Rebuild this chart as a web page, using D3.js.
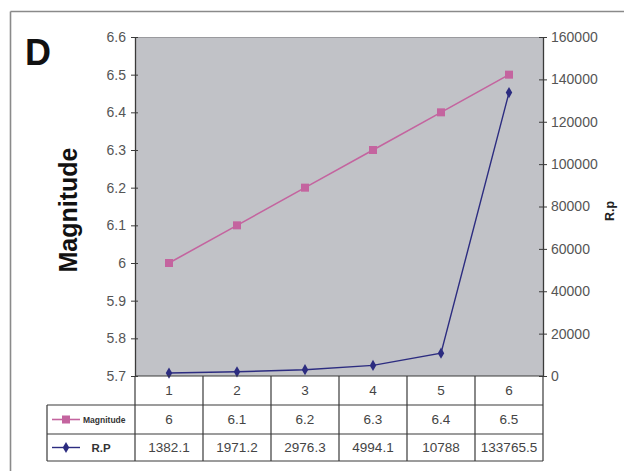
<!DOCTYPE html>
<html>
<head>
<meta charset="utf-8">
<script src="https://cdn.jsdelivr.net/npm/d3@7/dist/d3.min.js"></script>
<style>
  html, body { margin: 0; padding: 0; background: #fff; }
  svg { display: block; font-family: Arial, "Liberation Sans", sans-serif; }
</style>
</head>
<body>
<svg id="chart" width="624" height="471"></svg>
<script>
// Event index, earthquake magnitude and return period (R.P)
const categories = ["1", "2", "3", "4", "5", "6"];
const magnitude = [6, 6.1, 6.2, 6.3, 6.4, 6.5];
const returnPeriod = [1382.1, 1971.2, 2976.3, 4994.1, 10788, 133765.5];
const rpLabels = ["1382.1", "1971.2", "2976.3", "4994.1", "10788", "133765.5"];
const magTicks = [5.7, 5.8, 5.9, 6, 6.1, 6.2, 6.3, 6.4, 6.5, 6.6];
const rpTicks = [0, 20000, 40000, 60000, 80000, 100000, 120000, 140000, 160000];

const svg = d3.select("#chart");
const W = 624, H = 471;
const plot = { left: 135, top: 37, right: 543, bottom: 376 };
const rowH = [29, 29, 27];
const legendLeft = 47;

const magColor = "#c4649f";
const rpColor = "#2c2c80";
const tickColor = "#555";
const lineColor = "#3a3a3a";

// Outer frame (top and left edges)
svg.append("line").attr("x1", 10.5).attr("x2", W).attr("y1", 11.5).attr("y2", 11.5)
  .attr("stroke", "#8a8a8a").attr("stroke-width", 1.6);
svg.append("line").attr("x1", 10.5).attr("x2", 10.5).attr("y1", 11.5).attr("y2", H)
  .attr("stroke", "#8a8a8a").attr("stroke-width", 1.6);

const x = d3.scaleBand().domain(categories).range([plot.left, plot.right]);
const yMag = d3.scaleLinear().domain([5.7, 6.6]).range([plot.bottom, plot.top]);
const yRp = d3.scaleLinear().domain([0, 160000]).range([plot.bottom, plot.top]);

// Plot background
svg.append("rect")
  .attr("x", plot.left).attr("y", plot.top)
  .attr("width", plot.right - plot.left).attr("height", plot.bottom - plot.top)
  .attr("fill", "#c1c2c7");
svg.append("line").attr("x1", plot.left).attr("x2", plot.right)
  .attr("y1", plot.top + 0.5).attr("y2", plot.top + 0.5)
  .attr("stroke", "#9a9a9e").attr("stroke-width", 1);

// Left axis (magnitude)
const leftAxis = d3.axisLeft(yMag).tickValues(magTicks)
  .tickFormat(d3.format("~g")).tickSizeInner(4).tickSizeOuter(0).tickPadding(5);
const gL = svg.append("g").attr("transform", `translate(${plot.left},0)`).call(leftAxis);
gL.select(".domain").attr("stroke", lineColor).attr("stroke-width", 1.3);
gL.selectAll(".tick line").attr("stroke", lineColor).attr("x1", 3);
gL.selectAll(".tick text").attr("fill", tickColor).attr("font-size", 14)
  .attr("font-family", "Arial, 'Liberation Sans', sans-serif");

// Right axis (return period)
const rightAxis = d3.axisRight(yRp).tickValues(rpTicks)
  .tickFormat(d3.format("d")).tickSizeInner(4).tickSizeOuter(0).tickPadding(4);
const gR = svg.append("g").attr("transform", `translate(${plot.right},0)`).call(rightAxis);
gR.select(".domain").attr("stroke", lineColor).attr("stroke-width", 1.3);
gR.selectAll(".tick line").attr("stroke", lineColor).attr("x1", -4);
gR.selectAll(".tick text").attr("fill", tickColor).attr("font-size", 14)
  .attr("font-family", "Arial, 'Liberation Sans', sans-serif");

// Magnitude series
const cx = d => x(d) + x.bandwidth() / 2;
const magLine = d3.line().x((d, i) => cx(categories[i])).y(d => yMag(d));
svg.append("path").datum(magnitude).attr("d", magLine)
  .attr("fill", "none").attr("stroke", magColor).attr("stroke-width", 1.6);
svg.selectAll(".magPt").data(magnitude).enter().append("rect")
  .attr("x", (d, i) => cx(categories[i]) - 4).attr("y", d => yMag(d) - 4)
  .attr("width", 8).attr("height", 8).attr("fill", magColor);

// Return period series
const rpLine = d3.line().x((d, i) => cx(categories[i])).y(d => yRp(d));
svg.append("path").datum(returnPeriod).attr("d", rpLine)
  .attr("fill", "none").attr("stroke", rpColor).attr("stroke-width", 1.4);
const diamond = d3.symbol().type(d3.symbolDiamond).size(36);
svg.selectAll(".rpPt").data(returnPeriod).enter().append("path")
  .attr("d", diamond)
  .attr("transform", (d, i) => `translate(${cx(categories[i])},${yRp(d)})`)
  .attr("fill", rpColor);

// Data table below the plot
const rows = [plot.bottom, plot.bottom + rowH[0], plot.bottom + rowH[0] + rowH[1],
  plot.bottom + rowH[0] + rowH[1] + rowH[2]];
const tbl = svg.append("g").attr("stroke", lineColor).attr("stroke-width", 1.2);
// horizontal rules
tbl.append("line").attr("x1", plot.left).attr("x2", plot.right).attr("y1", rows[0]).attr("y2", rows[0]);
[1, 2, 3].forEach(r => tbl.append("line").attr("x1", legendLeft).attr("x2", plot.right)
  .attr("y1", rows[r]).attr("y2", rows[r]));
// vertical rules
tbl.append("line").attr("x1", legendLeft).attr("x2", legendLeft).attr("y1", rows[1]).attr("y2", rows[3]);
categories.forEach(c => tbl.append("line").attr("x1", x(c)).attr("x2", x(c))
  .attr("y1", rows[0]).attr("y2", rows[3]));
tbl.append("line").attr("x1", plot.right).attr("x2", plot.right).attr("y1", rows[0]).attr("y2", rows[3]);

const cellText = (txt, xx, yy) => svg.append("text").attr("x", xx).attr("y", yy)
  .attr("text-anchor", "middle").attr("dominant-baseline", "central")
  .attr("fill", "#444").attr("font-size", 13.5).text(txt);
categories.forEach((c, i) => {
  cellText(c, cx(c), (rows[0] + rows[1]) / 2);
  cellText(d3.format("~g")(magnitude[i]), cx(c), (rows[1] + rows[2]) / 2);
  cellText(rpLabels[i], cx(c), (rows[2] + rows[3]) / 2);
});

// Legend keys inside the table
const magY = (rows[1] + rows[2]) / 2, rpY = (rows[2] + rows[3]) / 2;
svg.append("line").attr("x1", 52).attr("x2", 80).attr("y1", magY).attr("y2", magY)
  .attr("stroke", magColor).attr("stroke-width", 1.6);
svg.append("rect").attr("x", 62).attr("y", magY - 4).attr("width", 8).attr("height", 8).attr("fill", magColor);
svg.append("text").attr("x", 83).attr("y", magY).attr("dominant-baseline", "central")
  .attr("font-size", 8.5).attr("font-weight", "bold").attr("fill", "#333").text("Magnitude");
svg.append("line").attr("x1", 52).attr("x2", 80).attr("y1", rpY).attr("y2", rpY)
  .attr("stroke", rpColor).attr("stroke-width", 1.4);
svg.append("path").attr("d", diamond).attr("transform", `translate(66,${rpY})`).attr("fill", rpColor);
svg.append("text").attr("x", 101).attr("y", rpY).attr("text-anchor", "middle")
  .attr("dominant-baseline", "central").attr("font-size", 11.5).attr("font-weight", "bold")
  .attr("fill", "#333").text("R.P");

// Axis titles and panel letter
svg.append("text").attr("transform", "translate(77,210) rotate(-90)")
  .attr("text-anchor", "middle").attr("font-size", 25).attr("font-weight", "bold")
  .attr("fill", "#111").text("Magnitude");
svg.append("text").attr("transform", "translate(614,211) rotate(-90)")
  .attr("text-anchor", "middle").attr("font-size", 12.5).attr("font-weight", "bold")
  .attr("fill", "#222").text("R.p");
svg.append("text").attr("x", 25).attr("y", 65)
  .attr("font-size", 36).attr("font-weight", "bold").attr("fill", "#111").text("D");
</script>
</body>
</html>
